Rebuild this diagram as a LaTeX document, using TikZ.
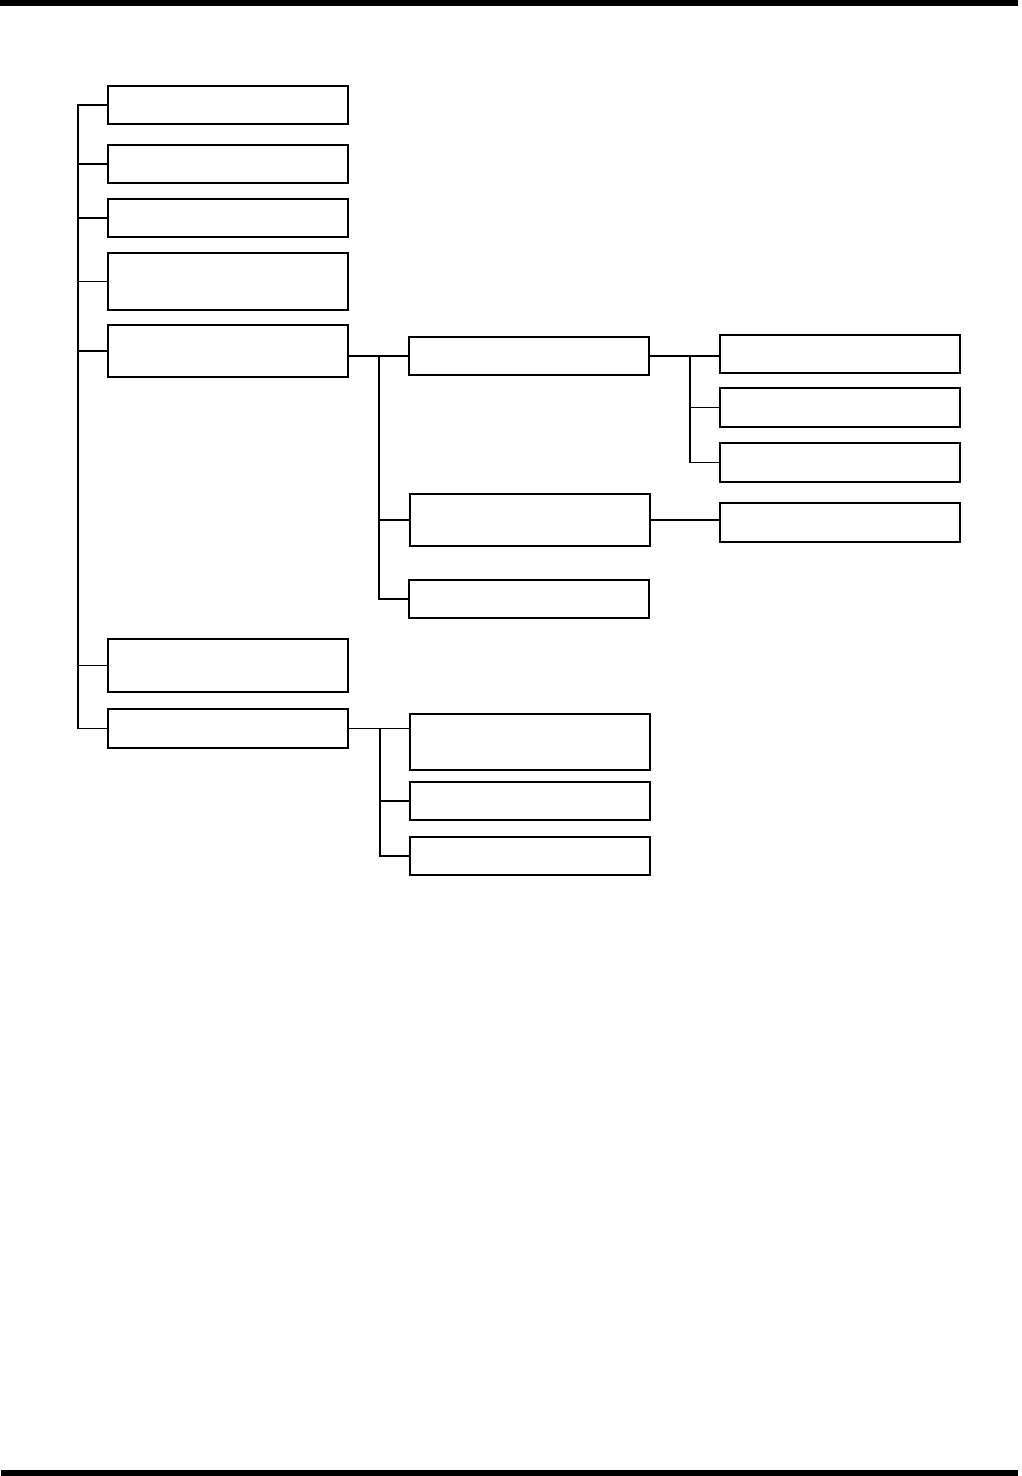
\documentclass[tikz,border=0pt]{standalone}
\begin{document}
\begin{tikzpicture}[x=1pt,y=-1pt,
  box/.style={draw=black,line width=1.1pt,fill=white,anchor=north west,inner sep=0pt,outer sep=0pt,minimum width=240pt},
  thickbox/.style={box,line width=1.7pt},
  conn/.style={draw=black,line width=1.2pt},
  thickconn/.style={draw=black,line width=1.8pt}]
\useasboundingbox (0,0) rectangle (1022,1476);
\fill[black] (0,0) rectangle (1018,6);
\fill[black] (1,1470) rectangle (1018,1476);
% column A
\node[thickbox,minimum height=38pt] (A1) at (108,86) {};
\node[box,minimum height=38pt] (A2) at (108,145) {};
\node[box,minimum height=38pt] (A3) at (108,199) {};
\node[thickbox,minimum height=57pt] (A4) at (108,253) {};
\node[box,minimum height=52pt] (A5) at (108,325) {};
\node[thickbox,minimum height=53pt] (A6) at (108,639) {};
\node[box,minimum height=39pt] (A7) at (108,709) {};
% column B
\node[box,minimum height=38pt] (B1) at (409,337) {};
\node[thickbox,minimum height=52pt] (B2) at (410,494) {};
\node[thickbox,minimum height=38pt] (B3) at (409,580) {};
\node[box,minimum height=56pt] (B4) at (410,714) {};
\node[thickbox,minimum height=38pt] (B5) at (410,782) {};
\node[thickbox,minimum height=38pt] (B6) at (410,837) {};
% column C
\node[thickbox,minimum height=38pt] (C1) at (720,335) {};
\node[box,minimum height=39pt] (C2) at (720,388) {};
\node[box,minimum height=39pt] (C3) at (720,443) {};
\node[box,minimum height=39pt] (C4) at (720,503) {};
% trunk coordinates
\coordinate (ta) at (78,0);
\coordinate (tb) at (379,0);
\coordinate (tc) at (380,0);
\coordinate (td) at (690,0);
% column A trunk
\draw[conn] (A1.west) -- (A1.west -| ta) -- (A7.west -| ta) -- (A7.west);
\draw[conn] (A2.west) -- (A2.west -| ta);
\draw[conn] (A3.west) -- (A3.west -| ta);
\draw[conn] (A4.west) -- (A4.west -| ta);
\draw[conn] (A5.west) -- (A5.west -| ta);
\draw[thickconn] (A6.west) -- (A6.west -| ta);
% A5 -> B
\draw[conn] (A5.east |- B1.west) -- (B1.west);
\draw[thickconn] (B1.west -| tb) -- (B3.west -| tb) -- (B3.west);
\draw[conn] (B2.west) -- (B2.west -| tb);
% A7 -> B4..B6
\draw[conn] (A7.east) -- (A7.east -| B4.west);
\draw[thickconn] (A7.east -| tc) -- (B6.west -| tc) -- (B6.west);
\draw[thickconn] (B5.west) -- (B5.west -| tc);
% B1 -> C
\draw[thickconn] (B1.east) -- (B1.east -| C1.west);
\draw[conn] (B1.east -| td) -- (C3.west -| td);
\draw[thickconn] (C3.west) -- (C3.west -| td);
\draw[conn] (C2.west) -- (C2.west -| td);
% B2 -> C4
\draw[thickconn] (B2.east) -- (B2.east -| C4.west);
\end{tikzpicture}
\end{document}
